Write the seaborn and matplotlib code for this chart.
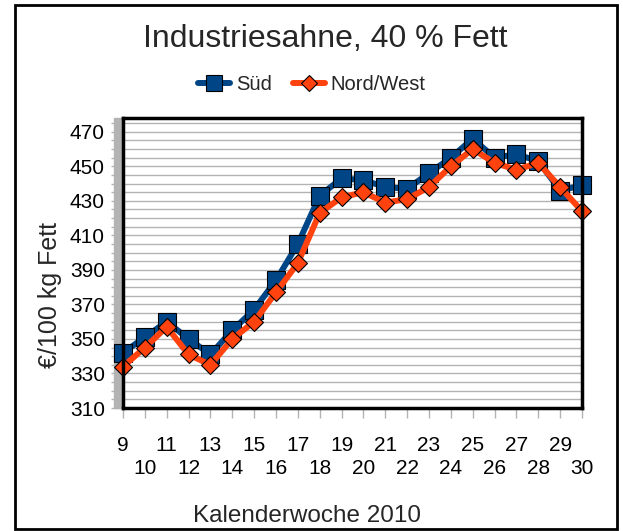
import matplotlib
matplotlib.use("Agg")
import matplotlib.pyplot as plt
import matplotlib.patches as mpatches
from matplotlib.ticker import MultipleLocator
import pandas as pd
import seaborn as sns

sns.set_theme(style="white")
plt.rcParams["font.family"] = ["Liberation Sans", "DejaVu Sans"]

# %%
weeks = list(range(9, 31))
sued = [342, 351, 360, 350, 341, 355, 367, 384, 405, 433, 443, 442,
        438, 437, 446, 455, 466, 455, 457, 453, 436, 439]
nord_west = [334, 345, 357, 341, 335, 350, 360, 377, 394, 423, 432, 435,
             429, 431, 438, 450, 460, 452, 448, 452, 438, 424]
series_names = ["Süd", "Nord/West"]

df = pd.DataFrame({
    "woche": weeks * 2,
    "preis": sued + nord_west,
    "region": [series_names[0]] * len(weeks) + [series_names[1]] * len(weeks),
})

palette = {"Süd": "#004586", "Nord/West": "#ff420e"}
markers = {"Süd": "s", "Nord/West": "D"}

# %%
W, H = 623, 531
fig = plt.figure(figsize=(W / 100, H / 100), dpi=100)
ax = fig.add_axes([123 / W, 1 - 408 / H, 459 / W, 290 / H])

sns.lineplot(
    data=df, x="woche", y="preis", hue="region", style="region",
    hue_order=series_names, style_order=series_names,
    palette=palette, markers=markers, dashes=False,
    linewidth=4.3, markeredgecolor="black", markeredgewidth=0.8,
    ax=ax,
)
# marker sizes per series, markers may hang over the frame
for line in ax.lines:
    line.set_clip_on(False)
    if line.get_marker() == "s":
        line.set_markersize(13)
    elif line.get_marker() == "D":
        line.set_markersize(9.5)

handles, labels = ax.get_legend_handles_labels()
ax.get_legend().remove()
for h in handles:
    if h.get_marker() == "s":
        h.set_markersize(11)
    elif h.get_marker() == "D":
        h.set_markersize(8)
fig.legend(handles, labels, loc="center", bbox_to_anchor=(312 / W, 1 - 85 / H),
           ncol=2, frameon=False, fontsize=14.5, handlelength=1.6,
           handletextpad=0.3, columnspacing=1.0)

# axes, ticks, grid
ax.set_xlim(9, 30)
ax.set_ylim(310, 478)
ax.set_yticks(range(310, 471, 20))
ax.yaxis.set_minor_locator(MultipleLocator(5))
ax.grid(axis="y", which="both", color="#b3b3b3", linewidth=1)
ax.set_axisbelow(True)

ax.set_xticks(weeks)
ax.set_xticklabels([str(w) if w % 2 else "\n" + str(w) for w in weeks])
for t in ax.get_xticklabels():
    t.set_linespacing(1.3)

ax.tick_params(axis="both", which="both", direction="out", color="#b3b3b3",
               labelsize=15, labelcolor="black", width=1)
ax.yaxis.set_tick_params(which="both", length=9, pad=4, left=True)
ax.xaxis.set_tick_params(length=7, pad=13, bottom=True)

for s in ax.spines.values():
    s.set_color("black")
    s.set_linewidth(2.5)

ax.set_xlabel("")
ax.set_ylabel("")

# grey side wall left of the plot area
ax.add_patch(mpatches.Rectangle((-9 / 459, 0), 9 / 459, 1.0, transform=ax.transAxes,
                                color="#b3b3b3", clip_on=False, zorder=0))

# texts
fig.text(325 / W, 1 - 39 / H, "Industriesahne, 40 % Fett", ha="center", va="center",
         fontsize=23)
fig.text(307 / W, 1 - 516 / H, "Kalenderwoche 2010", ha="center", va="center",
         fontsize=17.5)
fig.text(50 / W, 1 - 295 / H, "€/100 kg Fett", ha="center", va="center",
         rotation=90, fontsize=18)

# outer border
fig.patches.append(mpatches.Rectangle((15 / W, 1 - 529 / H), 602 / W, 524 / H,
                                      transform=fig.transFigure, fill=False,
                                      edgecolor="black", linewidth=2))

fig.savefig("out.png", dpi=100)
